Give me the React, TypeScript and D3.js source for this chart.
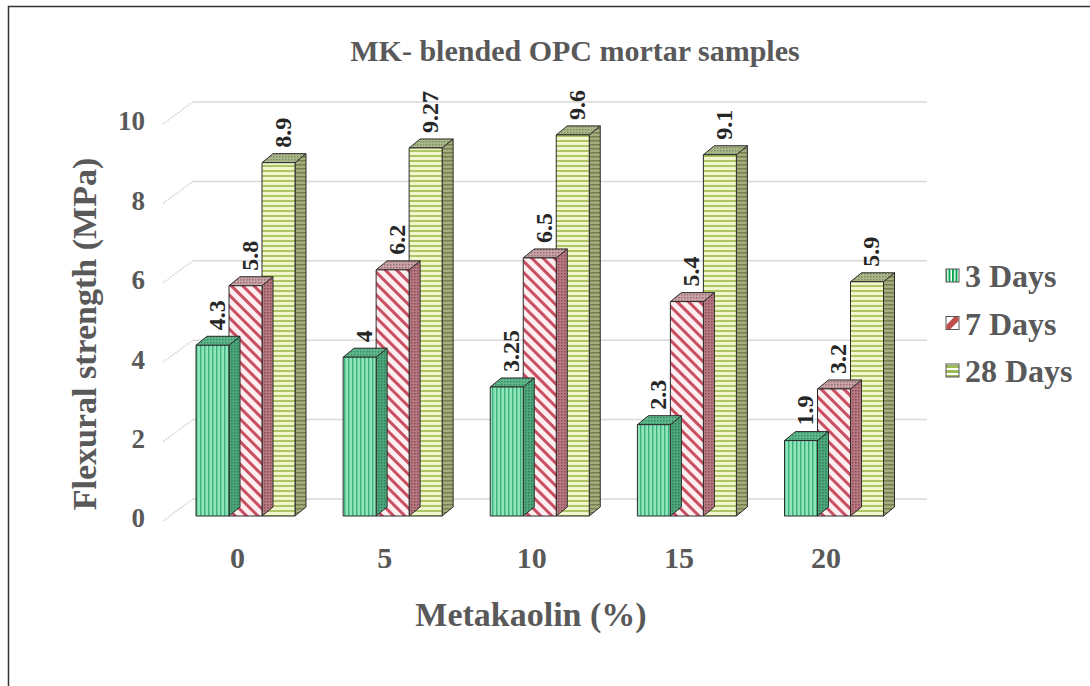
import React from "react";
import * as d3 from "d3";

const categories = ["0", "5", "10", "15", "20"];
const seriesNames = ["3 Days", "7 Days", "28 Days"];
const days3 = [4.3, 4, 3.25, 2.3, 1.9];
const days7 = [5.8, 6.2, 6.5, 5.4, 3.2];
const days28 = [8.9, 9.27, 9.6, 9.1, 5.9];
const yTicks = [0, 2, 4, 6, 8, 10];

const W = 1090;
const H = 686;
const FONT = "'Liberation Serif', 'Times New Roman', serif";
const GREY = "#595959";

// bar depth (pseudo-3D)
const DX = 11;
const DY = -9;
const BAR_W = 33;
const WALL_DX = 30;
const WALL_DY = -17;

const y = d3.scaleLinear().domain([0, 10]).range([516, 119]);
const xc = d3.scalePoint<string>().domain(categories).range([245.5, 834]);

const seriesVals = [days3, days7, days28];
const fronts = ["url(#p3f)", "url(#p7f)", "url(#p28f)"];
const sides = ["url(#p3s)", "url(#p7s)", "url(#p28s)"];
const tops = ["url(#p3t)", "url(#p7t)", "url(#p28t)"];

export default function App() {
  const bars: React.ReactNode[] = [];
  const labels: React.ReactNode[] = [];
  categories.forEach((c, ci) => {
    const gx = (xc(c) as number) - (BAR_W * 3) / 2;
    // draw right to left so the side faces are covered correctly
    for (let si = 2; si >= 0; si--) {
      const v = seriesVals[si][ci];
      const x0 = gx + si * BAR_W;
      const x1 = x0 + BAR_W;
      const yt = y(v);
      const yb = y(0);
      const key = `${ci}-${si}`;
      bars.push(
        <g key={key} stroke="#2b2b2b" strokeWidth={1} strokeLinejoin="round">
          <polygon
            points={`${x1},${yt} ${x1 + DX},${yt + DY} ${x1 + DX},${yb + DY} ${x1},${yb}`}
            fill={sides[si]}
          />
          <polygon
            points={`${x0},${yt} ${x0 + DX},${yt + DY} ${x1 + DX},${yt + DY} ${x1},${yt}`}
            fill={tops[si]}
          />
          <rect x={x0} y={yt} width={BAR_W} height={yb - yt} fill={fronts[si]} />
        </g>
      );
      const lx = x0 + BAR_W / 2 + 4;
      const ly = yt + DY - 6;
      labels.push(
        <text
          key={"l" + key}
          transform={`translate(${lx},${ly}) rotate(-90)`}
          dy="0.35em"
          fontFamily={FONT}
          fontWeight="bold"
          fontSize={24}
          fill="#262626"
        >
          {String(v)}
        </text>
      );
    }
  });

  return (
    <svg
      width={W}
      height={H}
      style={{ position: "absolute", left: 0, top: 0, background: "#fff" }}
    >
      <defs>
        <pattern id="p3f" width={4} height={8} patternUnits="userSpaceOnUse">
          <rect width={4} height={8} fill="#8de6b9" />
          <rect x={0} width={1.4} height={8} fill="#3fb07c" />
        </pattern>
        <pattern id="p3s" width={3} height={3} patternUnits="userSpaceOnUse">
          <rect width={3} height={3} fill="#4ea67c" />
          <rect width={1.5} height={1.5} fill="#2f7f58" />
        </pattern>
        <pattern id="p3t" width={3} height={3} patternUnits="userSpaceOnUse">
          <rect width={3} height={3} fill="#5fb88c" />
          <rect width={1.5} height={1.5} fill="#3a8c63" />
        </pattern>
        <pattern
          id="p7f"
          width={8}
          height={8}
          patternUnits="userSpaceOnUse"
          patternTransform="rotate(-45)"
        >
          <rect width={8} height={8} fill="#fdeef0" />
          <rect x={0} width={3} height={8} fill="#c94f62" />
        </pattern>
        <pattern id="p7s" width={3} height={3} patternUnits="userSpaceOnUse">
          <rect width={3} height={3} fill="#b87a82" />
          <rect width={1.5} height={1.5} fill="#8c4a55" />
        </pattern>
        <pattern id="p7t" width={3} height={3} patternUnits="userSpaceOnUse">
          <rect width={3} height={3} fill="#c8a4a8" />
          <rect width={1.5} height={1.5} fill="#9a6d74" />
        </pattern>
        <pattern id="p28f" width={8} height={5} patternUnits="userSpaceOnUse">
          <rect width={8} height={5} fill="#f1f6cc" />
          <rect y={0} width={8} height={2} fill="#aec566" />
        </pattern>
        <pattern id="p28s" width={8} height={4} patternUnits="userSpaceOnUse">
          <rect width={8} height={4} fill="#a4ab7c" />
          <rect y={0} width={8} height={1.5} fill="#767e4e" />
        </pattern>
        <pattern id="p28t" width={3} height={3} patternUnits="userSpaceOnUse">
          <rect width={3} height={3} fill="#aab88c" />
          <rect width={1.5} height={1.5} fill="#7f8e5c" />
        </pattern>
        <pattern id="lg3" width={3.5} height={14} patternUnits="userSpaceOnUse">
          <rect width={3.5} height={14} fill="#ffffff" />
          <rect width={2} height={14} fill="#00a64f" />
        </pattern>
        <pattern id="lg28" width={14} height={5} patternUnits="userSpaceOnUse">
          <rect width={14} height={5} fill="#ffffff" />
          <rect width={14} height={3} fill="#9bbb59" />
        </pattern>
      </defs>

      {/* outer frame */}
      <rect x={8.5} y={6.5} width={1200} height={800} fill="none" stroke="#333" strokeWidth={1.5} />

      {/* title */}
      <text
        x={575}
        y={50}
        dy="0.35em"
        textAnchor="middle"
        fontFamily={FONT}
        fontWeight="bold"
        fontSize={30}
        fill={GREY}
      >
        MK- blended OPC mortar samples
      </text>

      {/* gridlines: back wall + floor slant */}
      <g stroke="#d9d9d9" strokeWidth={1.5} fill="none">
        {yTicks.map((t) => {
          const yf = y(t) + 5;
          const yw = yf + WALL_DY - 5;
          return (
            <g key={t}>
              <line x1={163} y1={yf} x2={163 + WALL_DX} y2={yw} strokeDasharray="2,1" />
              <line x1={163 + WALL_DX} y1={yw} x2={927} y2={yw} />
            </g>
          );
        })}
      </g>

      {/* y tick labels */}
      {yTicks.map((t) => (
        <text
          key={"t" + t}
          x={145}
          y={y(t) + 2}
          dy="0.35em"
          textAnchor="end"
          fontFamily={FONT}
          fontWeight="bold"
          fontSize={27}
          fill={GREY}
        >
          {t}
        </text>
      ))}

      {bars}
      {labels}

      {/* category labels */}
      {categories.map((c) => (
        <text
          key={"c" + c}
          x={(xc(c) as number) - 8}
          y={557}
          dy="0.35em"
          textAnchor="middle"
          fontFamily={FONT}
          fontWeight="bold"
          fontSize={30}
          fill={GREY}
        >
          {c}
        </text>
      ))}

      {/* axis titles */}
      <text
        x={531}
        y={614}
        dy="0.35em"
        textAnchor="middle"
        fontFamily={FONT}
        fontWeight="bold"
        fontSize={34}
        fill={GREY}
      >
        Metakaolin (%)
      </text>
      <text
        transform={`translate(84,334) rotate(-90)`}
        dy="0.35em"
        textAnchor="middle"
        fontFamily={FONT}
        fontWeight="bold"
        fontSize={34}
        fill={GREY}
      >
        Flexural strength (MPa)
      </text>

      {/* legend */}
      {seriesNames.map((s, i) => {
        const ly = 276 + i * 47.5;
        const fill = i === 0 ? "url(#lg3)" : i === 2 ? "url(#lg28)" : "#fff";
        return (
          <g key={s}>
            <rect x={946} y={ly - 7} width={13} height={13} fill={fill} stroke="#555" strokeWidth={1} />
            {i === 1 && (
              <polygon
                points={`${946.5},${ly + 5.5} ${946.5},${ly + 1.5} ${954},${ly - 6.5} ${958.5},${ly - 6.5} ${958.5},${ly - 2.5} ${950.5},${ly + 5.5}`}
                fill="#c0504d"
              />
            )}
            <text
              x={965}
              y={ly}
              dy="0.35em"
              fontFamily={FONT}
              fontWeight="bold"
              fontSize={32}
              fill={GREY}
            >
              {s}
            </text>
          </g>
        );
      })}
    </svg>
  );
}
